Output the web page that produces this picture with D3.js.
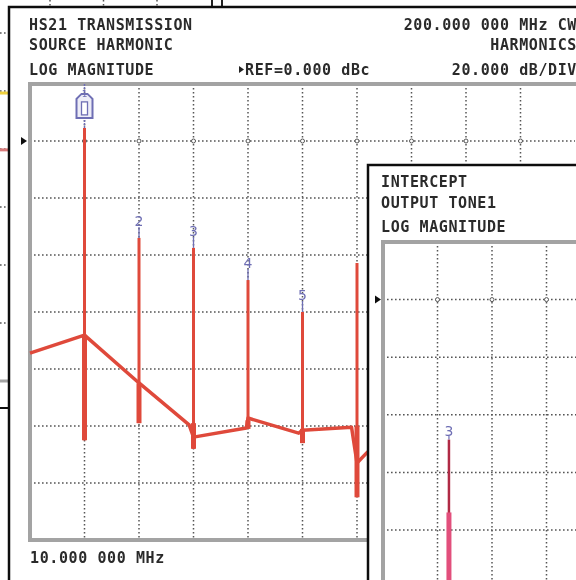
<!DOCTYPE html>
<html>
<head>
<meta charset="utf-8">
<script src="https://cdn.jsdelivr.net/npm/d3@7"></script>
<style>
  body { margin: 0; background: #fff; }
  .lcd { font-family: "DejaVu Sans Mono", monospace; font-weight: bold; font-size: 15px; letter-spacing: 0.6px; fill: #2b2b2b; }
  .mk { font-family: "DejaVu Sans", sans-serif; font-size: 14px; fill: #6e6eb4; }
</style>
</head>
<body>
<script>
// 高調波（メイン画面）のデータ
var harmonicNo  = [1, 2, 3, 4, 5, 6];
var peakTopDb   = [4.6, -34, -37.5, -48.8, -60, -42.8];
var peakBaseDb  = [-105, -99, -108, -101, -106, -125];
var fuzzTopDb   = [-68, -85, -99, -98, -101, -100];
var markerText  = ["1", "2", "3", "4", "5", ""];

// ノイズフロアのトレース
var floorX  = [0, 1, 2, 2.92, 3, 3.97, 4, 4.93, 5, 5.9, 6, 6.2];
var floorDb = [-74.4, -68.1, -84.9, -99.6, -103.9, -100.7, -97.2, -102.5, -101.5, -100.4, -113, -109];

// インターセプト画面（右下）
var toneX = [1.21];
var toneTopDb = [-48.6];
var toneThickDb = [-73.9];
var toneBaseDb = [-110];
var toneLabel = ["3"];

// 後ろの画面（左端にだけ見える）
var bgTraceDb = [-20.7, -40.3];
var bgTraceColor = ["#efd03c", "#d97a7a"];

// 文字
var mainTitle = ["HS21 TRANSMISSION", "SOURCE HARMONIC", "LOG MAGNITUDE"];
var mainRight = ["200.000 000 MHz CW", "HARMONICS", "20.000 dB/DIV"];
var refText = "REF=0.000 dBc";
var startText = "10.000 000 MHz";
var toneTitle = ["INTERCEPT", "OUTPUT TONE1", "LOG MAGNITUDE"];

var W = 576, H = 580;
var RED = "#df4a3b", GRID = "#555", FRAME = "#a3a3a3", MARK = "#6e6eb4";

var svg = d3.select("body").append("svg").attr("width", W).attr("height", H);
var defs = svg.append("defs");
defs.append("filter").attr("id", "soft").append("feGaussianBlur").attr("stdDeviation", 0.45);
defs.append("clipPath").attr("id", "clipMain")
  .append("rect").attr("x", 10).attr("y", 7).attr("width", W).attr("height", H);
defs.append("clipPath").attr("id", "clipTone")
  .append("rect").attr("x", 368).attr("y", 165).attr("width", W).attr("height", H);

var root = svg.append("g").attr("filter", "url(#soft)");
root.append("rect").attr("width", W).attr("height", H).attr("fill", "#fff");

function dotted(sel) {
  return sel.attr("stroke", GRID).attr("stroke-width", 1.5).attr("stroke-dasharray", "1.6,2.4");
}

// ---- 後ろの画面 ----
var bgX = d3.scaleLinear().domain([0, 2]).range([50, 157]);
var bgY = d3.scaleLinear().domain([0, -120]).range([33, 381]);
var bg = root.append("g");
bg.selectAll(".bgv").data([0, 1, 2]).enter().append("line")
  .attr("x1", function(d) { return bgX(d); }).attr("x2", function(d) { return bgX(d); })
  .attr("y1", 0).attr("y2", 7).call(dotted);
bg.selectAll(".bgh").data([0, -20, -40, -60, -80, -100]).enter().append("line")
  .attr("x1", 0).attr("x2", 9)
  .attr("y1", function(d) { return bgY(d); }).attr("y2", function(d) { return bgY(d); }).call(dotted);
bg.selectAll(".bgt").data(bgTraceDb).enter().append("line")
  .attr("x1", 0).attr("x2", 9)
  .attr("y1", function(d) { return bgY(d); }).attr("y2", function(d) { return bgY(d); })
  .attr("stroke", function(d, i) { return bgTraceColor[i]; }).attr("stroke-width", 3);
bg.append("line").attr("x1", 0).attr("x2", 9).attr("y1", bgY(-120)).attr("y2", bgY(-120))
  .attr("stroke", FRAME).attr("stroke-width", 3);
bg.append("line").attr("x1", 0).attr("x2", 9).attr("y1", 408).attr("y2", 408)
  .attr("stroke", "#111").attr("stroke-width", 2);
[212, 222].forEach(function(xx) {
  bg.append("line").attr("x1", xx).attr("x2", xx).attr("y1", 0).attr("y2", 7)
    .attr("stroke", "#222").attr("stroke-width", 2);
});

// ---- メイン画面 ----
var x = d3.scaleLinear().domain([0, 10]).range([30, 575]);
var y = d3.scaleLinear().domain([20, -140]).range([84, 540]);

var mainWin = root.append("g");
mainWin.append("rect").attr("x", 10).attr("y", 7).attr("width", W).attr("height", H).attr("fill", "#fff");
var mg = mainWin.append("g").attr("clip-path", "url(#clipMain)");

mg.selectAll(".gv").data(d3.range(1, 10)).enter().append("line")
  .attr("x1", function(d) { return x(d); }).attr("x2", function(d) { return x(d); })
  .attr("y1", y(20)).attr("y2", y(-140)).call(dotted);
mg.selectAll(".gh").data(d3.range(0, -121, -20)).enter().append("line")
  .attr("x1", x(0)).attr("x2", x(10))
  .attr("y1", function(d) { return y(d); }).attr("y2", function(d) { return y(d); }).call(dotted);
// 基準線上の小さな丸
mg.selectAll(".gc").data(d3.range(1, 10)).enter().append("circle")
  .attr("cx", function(d) { return x(d); }).attr("cy", y(0)).attr("r", 2)
  .attr("fill", "#fff").attr("stroke", GRID).attr("stroke-width", 1);

// 枠
mg.append("path")
  .attr("d", "M" + x(10.2) + "," + y(20) + "H" + x(0) + "V" + y(-140) + "H" + x(10.2))
  .attr("fill", "none").attr("stroke", FRAME).attr("stroke-width", 4);

// REF矢印
mg.append("path")
  .attr("d", "M" + (x(0) - 9) + "," + (y(0) - 4) + "l6,4l-6,4z").attr("fill", "#111");

// ピーク
var peaks = mg.append("g").selectAll("g").data(harmonicNo).enter().append("g");
peaks.append("line")
  .attr("x1", function(d) { return x(d); }).attr("x2", function(d) { return x(d); })
  .attr("y1", function(d, i) { return y(peakTopDb[i]); })
  .attr("y2", function(d, i) { return y(peakBaseDb[i]); })
  .attr("stroke", RED).attr("stroke-width", 3);
peaks.append("line")
  .attr("x1", function(d) { return x(d); }).attr("x2", function(d) { return x(d); })
  .attr("y1", function(d, i) { return y(fuzzTopDb[i]); })
  .attr("y2", function(d, i) { return y(peakBaseDb[i]); })
  .attr("stroke", RED).attr("stroke-width", 5);

// ノイズフロア
var floorLine = d3.line()
  .x(function(d) { return x(d[0]); })
  .y(function(d) { return y(d[1]); });
mg.append("path")
  .datum(d3.zip(floorX, floorDb))
  .attr("d", floorLine)
  .attr("fill", "none").attr("stroke", RED).attr("stroke-width", 3.5)
  .attr("stroke-linejoin", "round");

// マーカー
peaks.filter(function(d, i) { return i > 0 && markerText[i] !== ""; }).each(function(d) {
  var i = harmonicNo.indexOf(d);
  var g = d3.select(this), px = x(d), py = y(peakTopDb[i]);
  g.append("line").attr("x1", px).attr("x2", px).attr("y1", py - 11).attr("y2", py)
    .attr("stroke", MARK).attr("stroke-width", 1.3);
  g.append("text").attr("class", "mk").attr("x", px).attr("y", py - 12)
    .attr("text-anchor", "middle").text(markerText[i]);
});
// マーカー1（アクティブ）
(function() {
  var px = x(harmonicNo[0]), py = y(peakTopDb[0]);
  var m = mg.append("g");
  m.append("line").attr("x1", px).attr("x2", px).attr("y1", y(20)).attr("y2", py)
    .attr("stroke", MARK).attr("stroke-width", 1.5).attr("stroke-dasharray", "2,1");
  m.append("path")
    .attr("d", "M" + (px - 8) + "," + (py - 10) + "v-19l5,-5h6l5,5v19z")
    .attr("fill", "#ededf7").attr("stroke", MARK).attr("stroke-width", 2);
  m.append("rect").attr("x", px - 3).attr("y", py - 26).attr("width", 6).attr("height", 13)
    .attr("fill", "#fff").attr("stroke", MARK).attr("stroke-width", 1.3);
  m.append("text").attr("class", "mk").attr("x", px).attr("y", py - 31).style("font-size", "9px")
    .attr("text-anchor", "middle").text(markerText[0]);
})();

// 文字
mainWin.selectAll(".tl").data(mainTitle).enter().append("text").attr("class", "lcd")
  .attr("x", 29).attr("y", function(d, i) { return [30, 50, 75][i]; }).text(function(d) { return d; });
mainWin.selectAll(".tr").data(mainRight).enter().append("text").attr("class", "lcd")
  .attr("x", 577).attr("text-anchor", "end")
  .attr("y", function(d, i) { return [30, 50, 75][i]; }).text(function(d) { return d; });
mainWin.append("path").attr("d", "M239,66l5,3.5l-5,3.5z").attr("fill", "#222");
mainWin.append("text").attr("class", "lcd").attr("x", 245).attr("y", 75).text(refText);
mainWin.append("text").attr("class", "lcd").attr("x", 30).attr("y", 563).text(startText);

// 枠線（黒）
mainWin.append("path").attr("d", "M9," + H + "V7H" + W)
  .attr("fill", "none").attr("stroke", "#111").attr("stroke-width", 2.5);

// ---- インターセプト画面 ----
var x2 = d3.scaleLinear().domain([0, 4]).range([383, 601]);
var y2 = d3.scaleLinear().domain([20, -100]).range([242, 587.6]);

var toneWin = root.append("g");
toneWin.append("rect").attr("x", 368).attr("y", 165).attr("width", W).attr("height", H).attr("fill", "#fff");
var tg = toneWin.append("g").attr("clip-path", "url(#clipTone)");

tg.selectAll(".gv").data([1, 2, 3]).enter().append("line")
  .attr("x1", function(d) { return x2(d); }).attr("x2", function(d) { return x2(d); })
  .attr("y1", y2(20)).attr("y2", H).call(dotted);
tg.selectAll(".gh").data(d3.range(0, -81, -20)).enter().append("line")
  .attr("x1", x2(0)).attr("x2", W)
  .attr("y1", function(d) { return y2(d); }).attr("y2", function(d) { return y2(d); }).call(dotted);
tg.selectAll(".gc").data([1, 2, 3]).enter().append("circle")
  .attr("cx", function(d) { return x2(d); }).attr("cy", y2(0)).attr("r", 2)
  .attr("fill", "#fff").attr("stroke", GRID).attr("stroke-width", 1);
tg.append("path")
  .attr("d", "M" + W + "," + y2(20) + "H" + x2(0) + "V" + H)
  .attr("fill", "none").attr("stroke", FRAME).attr("stroke-width", 4);
tg.append("path")
  .attr("d", "M" + (x2(0) - 8) + "," + (y2(0) - 4) + "l6,4l-6,4z").attr("fill", "#111");

var tones = tg.selectAll(".tone").data(toneX).enter().append("g");
tones.append("line")
  .attr("x1", function(d) { return x2(d); }).attr("x2", function(d) { return x2(d); })
  .attr("y1", function(d, i) { return y2(toneTopDb[i]); })
  .attr("y2", function(d, i) { return y2(toneBaseDb[i]); })
  .attr("stroke", "#b02a44").attr("stroke-width", 2.5);
tones.append("line")
  .attr("x1", function(d) { return x2(d); }).attr("x2", function(d) { return x2(d); })
  .attr("y1", function(d, i) { return y2(toneThickDb[i]); })
  .attr("y2", function(d, i) { return y2(toneBaseDb[i]); })
  .attr("stroke", "#e2507c").attr("stroke-width", 5);
tones.append("line")
  .attr("x1", function(d) { return x2(d); }).attr("x2", function(d) { return x2(d); })
  .attr("y1", function(d, i) { return y2(toneTopDb[i]) - 4; })
  .attr("y2", function(d, i) { return y2(toneTopDb[i]); })
  .attr("stroke", MARK).attr("stroke-width", 1.2);
tones.append("text").attr("class", "mk")
  .attr("x", function(d) { return x2(d); })
  .attr("y", function(d, i) { return y2(toneTopDb[i]) - 4; })
  .attr("text-anchor", "middle").text(function(d, i) { return toneLabel[i]; });

toneWin.selectAll(".tt").data(toneTitle).enter().append("text").attr("class", "lcd")
  .attr("x", 381).attr("y", function(d, i) { return [187, 208, 232][i]; }).text(function(d) { return d; });

toneWin.append("path").attr("d", "M368," + H + "V165H" + W)
  .attr("fill", "none").attr("stroke", "#111").attr("stroke-width", 2.5);
</script>
</body>
</html>
